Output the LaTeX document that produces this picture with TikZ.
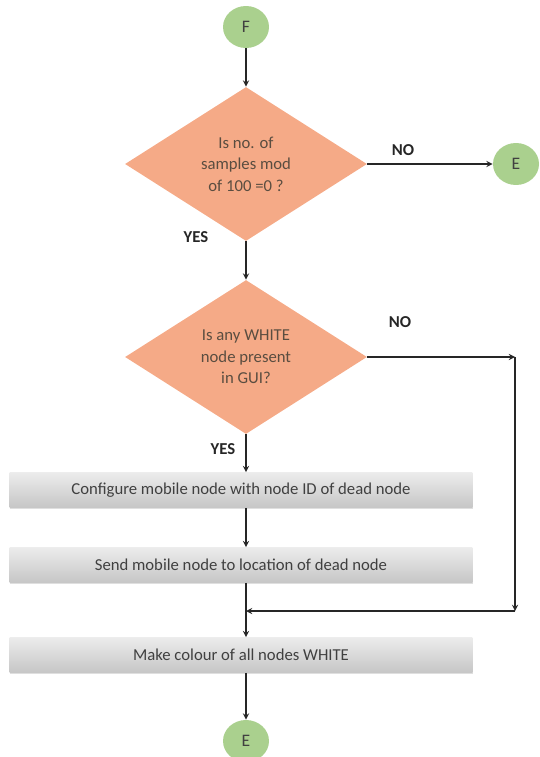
\documentclass[tikz,border=0pt]{standalone}
\usepackage{fontspec}
\setmainfont{Carlito}
\usepackage{tikz}
\definecolor{salmon}{RGB}{245,170,135}
\definecolor{leafgreen}{RGB}{170,208,142}
\definecolor{boxtop}{RGB}{236,236,236}
\definecolor{boxbot}{RGB}{198,198,198}
\definecolor{inkgray}{RGB}{64,64,64}
\usetikzlibrary{shapes.geometric, shadows}

\begin{document}
\begin{tikzpicture}[x=0.02cm, y=-0.02cm, >=stealth,
  font=\fontsize{9.5}{12.2}\selectfont,
  term/.style={ellipse, fill=leafgreen, minimum width=0.92cm, minimum height=0.84cm, inner sep=0pt, text=inkgray, font=\fontsize{10}{12}\selectfont},
  test/.style={diamond, fill=salmon, minimum width=4.84cm, minimum height=3.08cm, inner sep=0pt, align=center, text=inkgray!80!brown},
  task/.style={rectangle, top color=boxtop, bottom color=boxbot, minimum width=9.26cm, minimum height=0.7cm, text=inkgray, drop shadow={shadow xshift=0.5pt, shadow yshift=-1pt, fill=black!25}},
  flow/.style={->, line width=0.6pt, black!85},
  tag/.style={font=\fontsize{9.5}{11}\selectfont\bfseries, text=black!85}]
  \useasboundingbox (0,0) rectangle (539,757);
  % Các nút đầu cuối
  \node[term] (F) at (246,27) {F};
  \node[term] (E1) at (516,164) {E};
  \node[term] (E2) at (246,741) {E};
  % Các khối điều kiện
  \node[test] (d1) at (246,164) {Is no. of\\samples mod\\of 100 =0 ?};
  \node[test] (d2) at (246,357) {Is any WHITE\\node present\\in GUI?};
  % Các khối xử lý
  \node[task] (b1) at (241,490) {Configure mobile node with node ID of dead node};
  \node[task] (b2) at (241,565) {Send mobile node to location of dead node};
  \node[task] (b3) at (241,655) {Make colour of all nodes WHITE};
  % Điểm gấp của nhánh NO
  \coordinate (r1) at (515,357);
  \coordinate (r2) at (515,611);
  \coordinate (m) at (d2.south |- r2);
  % Các mũi tên
  \draw[flow] (F) -- (d1.north);
  \draw[flow] (d1.east) -- (E1);
  \draw[flow] (d1.south) -- (d2.north);
  \draw[flow] (d2.south) -- (d2.south |- b1.north);
  \draw[flow] (d2.south |- b1.south) -- (d2.south |- b2.north);
  \draw[line width=0.6pt, black!85] (d2.south |- b2.south) -- (m);
  \draw[flow] (m) -- (d2.south |- b3.north);
  \draw[flow] (d2.east) -- (r1);
  \draw[flow] (r1) -- (r2);
  \draw[flow] (r2) -- (m);
  \draw[flow] (d2.south |- b3.south) -- (E2);
  % Nhãn YES / NO
  \node[tag] at (403,150) {NO};
  \node[tag] at (196,237) {YES};
  \node[tag] at (400,322) {NO};
  \node[tag] at (223,449) {YES};
\end{tikzpicture}
\end{document}
